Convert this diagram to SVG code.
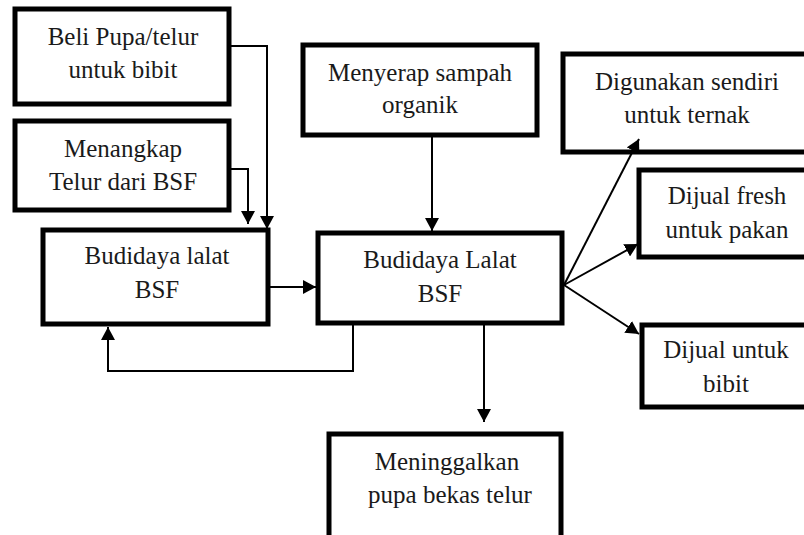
<svg xmlns="http://www.w3.org/2000/svg" width="804" height="535" viewBox="0 0 804 535">
<defs>
<marker id="ah" markerUnits="userSpaceOnUse" markerWidth="14" markerHeight="14" refX="13" refY="7" orient="auto" viewBox="0 0 14 14">
<path d="M0,0 L13,7 L0,14 z" fill="#000"/>
</marker>
</defs>
<style>
.box{fill:#fff;stroke:#000;stroke-width:5}
.t{font-family:'Liberation Serif','Times New Roman','DejaVu Serif',serif;font-size:25px;fill:#1a1a1a;text-anchor:middle}
.c{fill:none;stroke:#000;stroke-width:2}
</style>
<rect width="804" height="535" fill="#fff"/>
<g id="beli">
<rect class="box" x="15" y="9" width="214" height="95"/>
<text class="t" x="123" y="45" font-family="Liberation Serif, serif">Beli Pupa/telur</text>
<text class="t" x="123" y="78" font-family="Liberation Serif, serif">untuk bibit</text>
</g>
<g id="menangkap">
<rect class="box" x="15" y="121" width="214" height="89"/>
<text class="t" x="123" y="157">Menangkap</text>
<text class="t" x="123" y="190">Telur dari BSF</text>
</g>
<g id="budidaya1">
<rect class="box" x="43" y="230" width="225" height="94"/>
<text class="t" x="157" y="264">Budidaya lalat</text>
<text class="t" x="157" y="298">BSF</text>
</g>
<g id="menyerap">
<rect class="box" x="303" y="45" width="234" height="90"/>
<text class="t" x="420" y="81">Menyerap sampah</text>
<text class="t" x="420" y="113">organik</text>
</g>
<g id="budidaya2">
<rect class="box" x="318" y="233" width="244" height="90"/>
<text class="t" x="440" y="268">Budidaya Lalat</text>
<text class="t" x="440" y="302">BSF</text>
</g>
<g id="digunakan">
<rect class="box" x="563" y="54" width="250" height="98"/>
<text class="t" x="687" y="90">Digunakan sendiri</text>
<text class="t" x="687" y="123">untuk ternak</text>
</g>
<g id="fresh">
<rect class="box" x="639" y="170" width="180" height="87"/>
<text class="t" x="727" y="204">Dijual fresh</text>
<text class="t" x="727" y="238">untuk pakan</text>
</g>
<g id="bibit">
<rect class="box" x="642" y="325" width="176" height="82"/>
<text class="t" x="726" y="358">Dijual untuk</text>
<text class="t" x="726" y="392">bibit</text>
</g>
<g id="meninggalkan">
<rect class="box" x="329" y="434" width="232" height="110"/>
<text class="t" x="447" y="470">Meninggalkan</text>
<text class="t" x="450" y="503">pupa bekas telur</text>
</g>
<g id="connectors">
<path class="c" d="M231,46 H267 V229" marker-end="url(#ah)"/>
<path class="c" d="M231,169 H248 V224" marker-end="url(#ah)"/>
<path class="c" d="M270,287 H316" marker-end="url(#ah)"/>
<path class="c" d="M432,137 V231" marker-end="url(#ah)"/>
<path class="c" d="M353,325 V371 H108 V327" marker-end="url(#ah)"/>
<path class="c" d="M484,325 V422" marker-end="url(#ah)"/>
<path class="c" d="M564,285 L639,139" marker-end="url(#ah)"/>
<path class="c" d="M564,285 L638,244" marker-end="url(#ah)"/>
<path class="c" d="M564,285 L639,334" marker-end="url(#ah)"/>
</g>
</svg>
